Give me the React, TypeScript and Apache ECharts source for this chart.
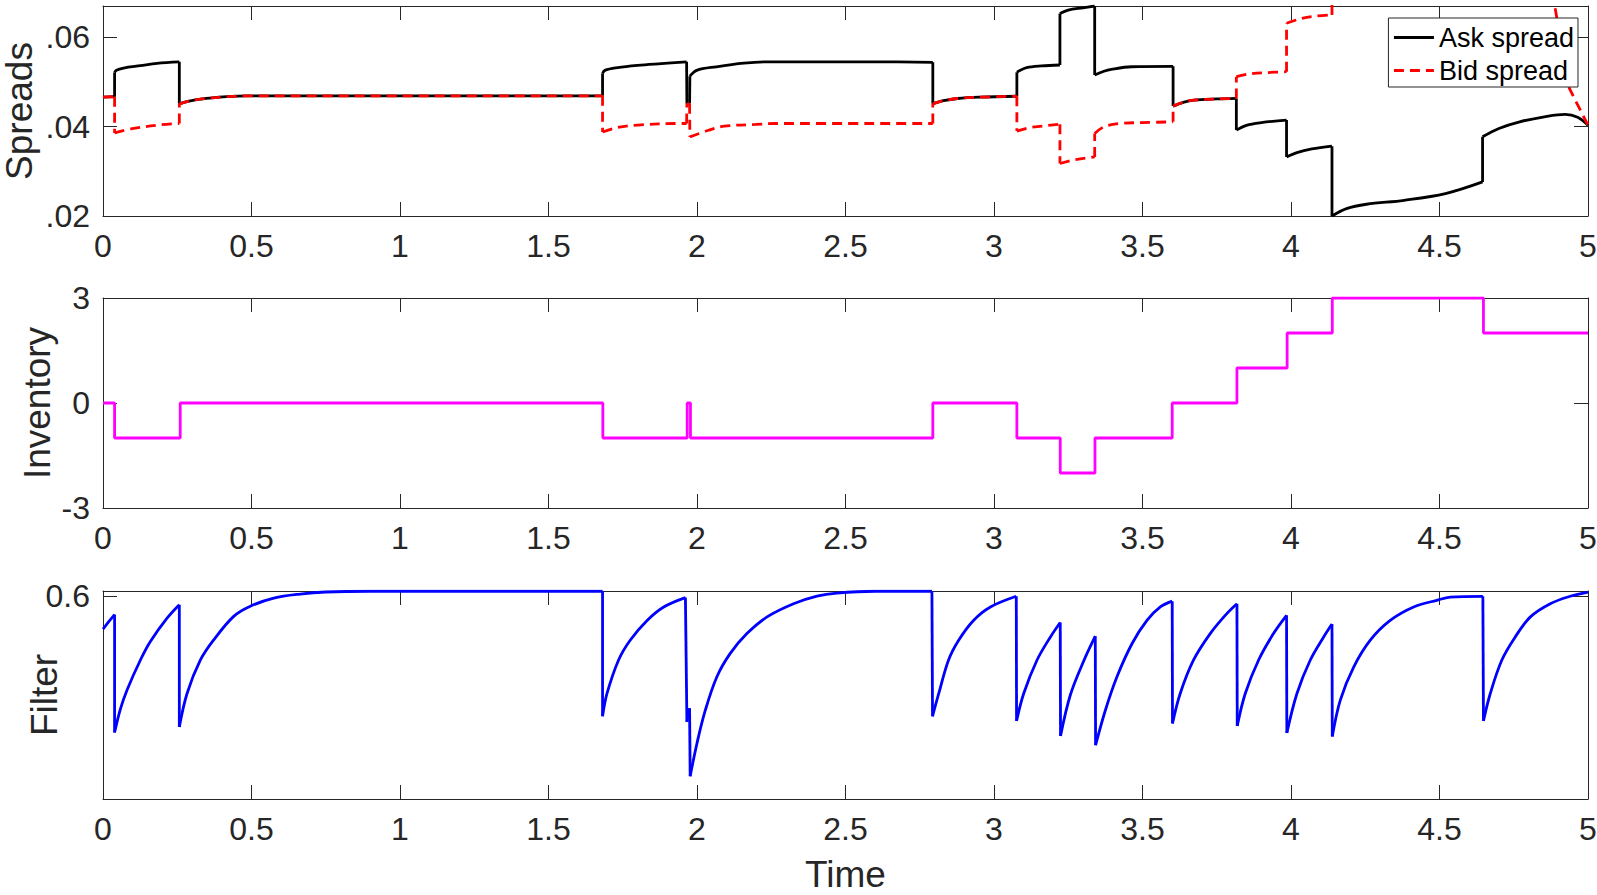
import React, { useEffect, useRef } from 'react';
import * as echarts from 'echarts';

// ---- data (each inner list is one continuous piece between jumps) ----
const timeRange = [0, 5];
const timeStep = 0.5;

const askSegments: [number, number][][] = [
  [[0, 0.0466], [0.039, 0.0467]],
  [[0.039, 0.0521], [0.045, 0.0526], [0.069, 0.0531], [0.126, 0.05364], [0.182, 0.05417], [0.257, 0.0545]],
  [[0.257, 0.0451], [0.29, 0.0457], [0.328, 0.04617], [0.417, 0.0467], [0.485, 0.0469], [0.7, 0.0469], [1.682, 0.0469]],
  [[1.682, 0.0519], [1.69, 0.0526], [1.733, 0.0532], [1.8, 0.0537], [1.88, 0.0541], [1.965, 0.0545]],
  [[1.966, 0.0451], [1.975, 0.0452]],
  [[1.976, 0.0513], [1.999, 0.0526], [2.065, 0.0534], [2.158, 0.0542], [2.24, 0.0545], [2.6, 0.0545], [2.794, 0.0544]],
  [[2.794, 0.0451], [2.83, 0.0458], [2.877, 0.0463], [2.95, 0.0466], [3.077, 0.0468]],
  [[3.077, 0.0522], [3.11, 0.0532], [3.16, 0.0536], [3.222, 0.0538]],
  [[3.222, 0.0653], [3.25, 0.0661], [3.30, 0.0666], [3.339, 0.0670]],
  [[3.339, 0.05155], [3.37, 0.0524], [3.395, 0.05283], [3.463, 0.0534], [3.603, 0.0535]],
  [[3.603, 0.0446], [3.64, 0.0455], [3.673, 0.04594], [3.75, 0.0462], [3.816, 0.04632]],
  [[3.816, 0.03922], [3.85, 0.0403], [3.9, 0.0409], [3.985, 0.04146]],
  [[3.985, 0.03323], [4.02, 0.0342], [4.07, 0.0350], [4.138, 0.03563]],
  [[4.138, 0.0200], [4.187, 0.02166], [4.254, 0.02263], [4.381, 0.02352], [4.52, 0.02502], [4.645, 0.02763]],
  [[4.645, 0.03772], [4.7, 0.0396], [4.77, 0.04108], [4.853, 0.0422], [4.923, 0.04274], [4.965, 0.0421], [5.0, 0.0403]],
];

const bidSegments: [number, number][][] = [
  [[0, 0.0466], [0.039, 0.0467]],
  [[0.039, 0.0386], [0.103, 0.0396], [0.193, 0.0404], [0.257, 0.0407]],
  [[0.257, 0.0451], [0.29, 0.0457], [0.328, 0.04617], [0.417, 0.0467], [0.485, 0.0469], [0.7, 0.0469], [1.682, 0.0469]],
  [[1.682, 0.0388], [1.733, 0.0398], [1.8, 0.04036], [1.94, 0.0407], [1.965, 0.0407]],
  [[1.966, 0.0451], [1.975, 0.0451]],
  [[1.976, 0.0377], [2.039, 0.0392], [2.092, 0.0401], [2.198, 0.0405], [2.265, 0.0407], [2.794, 0.0407]],
  [[2.794, 0.0451], [2.83, 0.0458], [2.877, 0.0463], [2.95, 0.0466], [3.077, 0.0468]],
  [[3.077, 0.0390], [3.12, 0.0398], [3.222, 0.04056]],
  [[3.222, 0.03175], [3.27, 0.0326], [3.339, 0.03323]],
  [[3.339, 0.03848], [3.37, 0.03996], [3.42, 0.0407], [3.5, 0.0409], [3.603, 0.04108]],
  [[3.603, 0.0446], [3.64, 0.0455], [3.673, 0.04594], [3.75, 0.0462], [3.816, 0.04632]],
  [[3.816, 0.05117], [3.86, 0.0518], [3.92, 0.0521], [3.985, 0.0523]],
  [[3.985, 0.06314], [4.03, 0.0641], [4.08, 0.0647], [4.138, 0.0650]],
  [[4.138, 0.0760], [4.4, 0.0775], [4.645, 0.0790]],
  [[4.645, 0.0700], [4.88, 0.0700]],
  [[4.88, 0.0700], [4.937, 0.0486], [5.0, 0.0403]],
];

// step series: value holds from each time until the next one
const inventory: [number, number][] = [
  [0, 0], [0.039, -1], [0.26, 0], [1.683, -1], [1.967, 0], [1.978, -1], [2.794, 0],
  [3.077, -1], [3.223, -2], [3.34, -1], [3.6, 0], [3.818, 1], [3.987, 2], [4.139, 3],
  [4.648, 2], [5.0, 2],
];

const filterSegments: [number, number][][] = [
  [[0, 0.535], [0.02, 0.550], [0.039, 0.5635]],
  [[0.039, 0.331], [0.059, 0.378], [0.081, 0.415], [0.126, 0.474], [0.159, 0.51], [0.215, 0.556], [0.257, 0.583]],
  [[0.257, 0.342], [0.283, 0.408], [0.328, 0.474], [0.372, 0.513], [0.44, 0.56], [0.496, 0.58], [0.575, 0.596], [0.664, 0.604], [0.75, 0.608], [0.9, 0.6095], [1.682, 0.6095]],
  [[1.682, 0.363], [1.697, 0.408], [1.736, 0.474], [1.775, 0.513], [1.832, 0.552], [1.888, 0.5785], [1.961, 0.597]],
  [[1.966, 0.352], [1.975, 0.379]],
  [[1.977, 0.245], [2.0, 0.31], [2.028, 0.375], [2.067, 0.441], [2.112, 0.487], [2.168, 0.526], [2.236, 0.559], [2.325, 0.585], [2.404, 0.6], [2.471, 0.606], [2.6, 0.6095], [2.791, 0.6095]],
  [[2.793, 0.363], [2.814, 0.408], [2.847, 0.474], [2.881, 0.513], [2.931, 0.552], [2.988, 0.5785], [3.075, 0.5996]],
  [[3.076, 0.354], [3.1, 0.408], [3.145, 0.474], [3.19, 0.5195], [3.223, 0.548]],
  [[3.224, 0.324], [3.257, 0.405], [3.302, 0.472], [3.341, 0.521]],
  [[3.342, 0.306], [3.375, 0.375], [3.414, 0.441], [3.465, 0.5065], [3.515, 0.552], [3.56, 0.5785], [3.6, 0.59]],
  [[3.601, 0.349], [3.627, 0.408], [3.672, 0.474], [3.728, 0.526], [3.784, 0.5655], [3.818, 0.585]],
  [[3.819, 0.344], [3.846, 0.408], [3.891, 0.474], [3.941, 0.526], [3.985, 0.562]],
  [[3.986, 0.33], [4.02, 0.408], [4.065, 0.474], [4.11, 0.5195], [4.138, 0.545]],
  [[4.139, 0.323], [4.166, 0.395], [4.211, 0.46], [4.267, 0.513], [4.334, 0.552], [4.413, 0.5785], [4.491, 0.5917], [4.536, 0.598], [4.646, 0.5996]],
  [[4.648, 0.354], [4.671, 0.408], [4.71, 0.474], [4.755, 0.5195], [4.806, 0.559], [4.873, 0.585], [4.94, 0.5996], [5.0, 0.608]],
];

const spreadsRange = [0.02, 0.067];
const spreadsStep = 0.02;
const inventoryRange = [-3, 3];
const inventoryStep = 3;
const filterRange = [0.2, 0.61];
const filterTicks = [0.6];

const FONT = "'Liberation Sans', Arial, Helvetica, sans-serif";
const AX = '#262626';
const LW = 2.8;

function piecewise(
  name: string,
  segments: [number, number][][],
  axis: number,
  lineStyle: any,
): any[] {
  const out: any[] = [];
  segments.forEach((seg, i) => {
    out.push({
      name, type: 'line', xAxisIndex: axis, yAxisIndex: axis, data: seg,
      symbol: 'none', smooth: seg.length > 3 ? 0.35 : false, clip: true,
      lineStyle, itemStyle: { color: lineStyle.color }, z: 2, silent: true,
    });
    if (i < segments.length - 1) {
      const a = seg[seg.length - 1];
      const b = segments[i + 1][0];
      out.push({
        name, type: 'line', xAxisIndex: axis, yAxisIndex: axis, data: [a, b],
        symbol: 'none', clip: true, lineStyle, itemStyle: { color: lineStyle.color }, z: 2, silent: true,
      });
    }
  });
  return out;
}

export default function App() {
  const ref = useRef<HTMLDivElement>(null);

  useEffect(() => {
    document.body.style.margin = '0';
    const chart = echarts.init(ref.current as HTMLDivElement, null, { renderer: 'svg' });

    const grids = [
      { left: 103, right: 9, top: 6, height: 210, outerBoundsMode: 'none', containLabel: false },
      { left: 103, right: 9, top: 298, height: 210, outerBoundsMode: 'none', containLabel: false },
      { left: 103, right: 9, top: 591, height: 208, outerBoundsMode: 'none', containLabel: false },
    ];

    const tick = { show: true, inside: true, length: 14, lineStyle: { color: AX, width: 1 } };
    const line = { show: true, onZero: false, lineStyle: { color: AX, width: 1 } };

    const xAxes: any[] = [];
    grids.forEach((_, i) => {
      xAxes.push({
        type: 'value', gridIndex: i, position: 'bottom', min: timeRange[0], max: timeRange[1], interval: timeStep,
        axisLine: line, axisTick: tick, splitLine: { show: false },
        axisLabel: { show: true, fontSize: 32, fontFamily: FONT, color: AX, margin: 14 },
        name: i === 2 ? 'Time' : '', nameLocation: 'middle', nameGap: 57, nameMoveOverlap: false,
        nameTextStyle: { fontSize: 37, fontFamily: FONT, color: AX },
      });
      xAxes.push({
        type: 'value', gridIndex: i, position: 'top', min: timeRange[0], max: timeRange[1], interval: timeStep,
        axisLine: line, axisTick: tick, splitLine: { show: false }, axisLabel: { show: false },
      });
    });

    const yLabel = { fontSize: 32, fontFamily: FONT, color: AX, margin: 13 };
    const yName = { fontSize: 37, fontFamily: FONT, color: AX };
    const yDefs: any[] = [
      {
        min: spreadsRange[0], max: spreadsRange[1], interval: spreadsStep, name: 'Spreads', nameGap: 65,
        label: {
          formatter: (v: number) => {
            const k = Math.round(v / spreadsStep);
            return Math.abs(v - k * spreadsStep) < 1e-9 ? '.' + v.toFixed(2).split('.')[1] : '';
          },
        },
        tickExtra: {},
      },
      {
        min: inventoryRange[0], max: inventoryRange[1], interval: inventoryStep, name: 'Inventory', nameGap: 47,
        label: {}, tickExtra: {},
      },
      {
        min: filterRange[0], max: filterRange[1], name: 'Filter', nameGap: 40,
        label: { customValues: filterTicks, formatter: (v: number) => v.toFixed(1) },
        tickExtra: { customValues: filterTicks },
      },
    ];

    const yAxes: any[] = [];
    yDefs.forEach((d, i) => {
      const base: any = { type: 'value', gridIndex: i, min: d.min, max: d.max, splitLine: { show: false } };
      if (d.interval) base.interval = d.interval;
      yAxes.push({
        ...base, position: 'left', axisLine: line, axisTick: { ...tick, ...d.tickExtra },
        axisLabel: { ...yLabel, ...d.label, showMaxLabel: i === 1 },
        name: d.name, nameLocation: 'middle', nameGap: d.nameGap, nameMoveOverlap: false, nameTextStyle: yName,
      });
      yAxes.push({
        ...base, position: 'right', axisLine: line, axisTick: { ...tick, ...d.tickExtra }, axisLabel: { show: false },
      });
    });

    const askStyle = { color: '#000000', width: LW };
    const bidStyle = { color: '#ff0000', width: LW, type: [10, 6] };

    const option: any = {
      animation: false,
      backgroundColor: '#ffffff',
      textStyle: { fontFamily: FONT },
      grid: grids,
      xAxis: xAxes,
      yAxis: yAxes,
      legend: {
        data: ['Ask spread', 'Bid spread'],
        orient: 'vertical', right: 19, top: 18, z: 20,
        padding: [6, 4, 3, 4], itemGap: 6, itemWidth: 40, itemHeight: 14,
        itemStyle: { opacity: 0 },
        lineStyle: { width: 3 },
        textStyle: { fontSize: 27, fontFamily: FONT, color: '#000' },
        borderColor: AX, borderWidth: 1, borderRadius: 0, backgroundColor: '#ffffff',
      },
      series: [
        ...piecewise('Ask spread', askSegments, 0, askStyle),
        ...piecewise('Bid spread', bidSegments, 0, bidStyle),
        {
          name: 'Inventory', type: 'line', xAxisIndex: 2, yAxisIndex: 2, data: inventory, step: 'end',
          symbol: 'none', clip: true, lineStyle: { color: '#ff00ff', width: LW }, z: 2,
        },
        ...piecewise('Filter', filterSegments, 4, { color: '#0000ff', width: LW }),
      ],
    };

    chart.setOption(option);
    return () => chart.dispose();
  }, []);

  return <div ref={ref} style={{ width: 1597, height: 895 }} />;
}
